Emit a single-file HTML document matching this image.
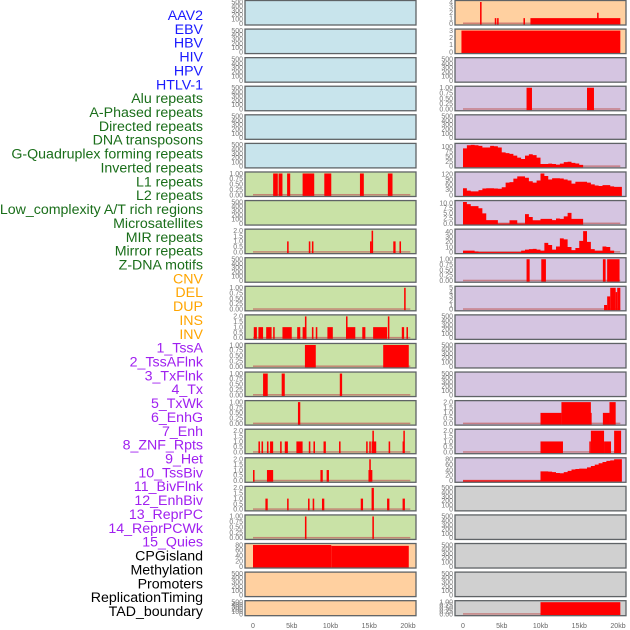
<!DOCTYPE html>
<html><head><meta charset="utf-8"><style>
html,body{margin:0;padding:0;background:#fff;}
svg{display:block;font-family:"Liberation Sans",sans-serif;}
</style></head><body>
<svg id="chart" width="630" height="630" viewBox="0 0 630 630" xmlns="http://www.w3.org/2000/svg"></svg>
<script>
// ---- data ----
const trackLabels = ["AAV2","EBV","HBV","HIV","HPV","HTLV-1","Alu repeats","A-Phased repeats","Directed repeats","DNA transposons","G-Quadruplex forming repeats","Inverted repeats","L1 repeats","L2 repeats","Low_complexity A/T rich regions","Microsatellites","MIR repeats","Mirror repeats","Z-DNA motifs","CNV","DEL","DUP","INS","INV","1_TssA","2_TssAFlnk","3_TxFlnk","4_Tx","5_TxWk","6_EnhG","7_Enh","8_ZNF_Rpts","9_Het","10_TssBiv","11_BivFlnk","12_EnhBiv","13_ReprPC","14_ReprPCWk","15_Quies","CPGisland","Methylation","Promoters","ReplicationTiming","TAD_boundary"];
const labelGroups = [6,13,5,15,5];
const groupColors = ["#1a1aff","#1a6e1a","#ffa500","#a020f0","#000000"];
const xTickValues = [0,5,10,15,20];
const xTickLabels = ["0","5kb","10kb","15kb","20kb"];
const leftBg = ["blue","blue","blue","blue","blue","blue","green","green","green","green","green","green","green","green","green","green","green","green","green","peach","peach","peach"];
const leftMax = [500,500,500,500,500,500,1,500,2,500,1,2,1,1,1,2,2,2,1,80,500,500];
const leftBars = [[],[],[],[],[],[],
 [[2.6,3.2,1],[3.3,3.8,1],[4.4,4.8,1],[6.4,7.9,1],[9.2,10.1,1],[13.8,14.3,1],[17.4,18.0,1]],
 [],
 [[4.4,4.6,1],[7.2,7.4,1],[7.6,7.8,1],[15.1,15.3,1],[15.3,15.5,2],[18.1,18.4,1],[18.9,19.1,1]],
 [],
 [[19.5,19.7,1]],
 [[0.1,0.5,1],[0.7,1.3,1],[1.7,2.4,1],[2.6,2.8,1],[3.8,5.0,1],[5.7,6.1,1],[6.4,6.9,1],[6.7,6.9,2],[7.6,7.8,1],[8.1,8.3,1],[9.6,10.3,1],[12.0,12.2,2],[12.0,13.2,1],[14.1,14.5,1],[15.5,17.3,1],[17.4,17.6,2],[19.2,19.5,1],[19.8,20.0,1]],
 [[6.7,8.1,1],[16.8,20.1,1]],
 [[1.3,1.9,1],[3.7,4.1,1],[11.2,11.5,1]],
 [[5.8,6.1,1]],
 [[0.7,0.9,1],[1.1,1.3,1],[1.8,2.0,1],[2.2,2.6,1],[3.5,3.7,1],[4.1,4.5,1],[5.6,6.4,1],[7.2,7.4,1],[7.8,8.0,1],[9.1,9.4,1],[11.1,11.3,1],[14.6,14.8,1],[15.0,15.2,1],[15.3,15.9,1],[15.4,15.6,2],[17.5,17.7,1],[19.3,19.5,1],[19.4,19.5,2]],
 [[0.0,0.2,1],[1.8,2.6,1],[8.7,9.0,1],[9.5,9.8,1],[14.9,15.4,1],[15.0,15.2,2]],
 [[1.6,1.9,1],[4.4,4.6,1],[7.1,7.3,1],[7.7,7.9,1],[8.9,9.2,1],[13.9,14.2,1],[15.3,15.6,2],[17.3,17.6,1],[19.3,19.6,1]],
 [[6.7,6.9,1],[15.4,15.6,1]],
 [[0.0,10.1,80],[10.1,20.1,77]],
 [],[]];
const leftHasBase = [0,0,0,0,0,0,1,0,1,0,1,1,1,1,1,1,1,1,1,0,0,0];
const rightBg = ["peach","peach","lav","lav","lav","lav","lav","lav","lav","lav","lav","lav","lav","lav","lav","lav","lav","grey","grey","grey","grey","grey"];
const rightMax = [4,3,500,1,500,110,125,10.5,42,1,5,500,500,500,2,2,80,500,500,500,500,1];
const rightBars = [
 [[2.2,2.4,4],[4.1,4.3,1],[4.4,4.6,1],[7.8,8.0,1],[8.7,20.3,1],[17.3,17.5,2]],
 [[-0.2,20.3,3]],
 [],
 [[8.2,8.9,1],[16.0,16.9,1]],
 [],[],[],[],[],
 [[8.2,8.6,1],[10.1,10.7,1],[18.05,18.4,1],[18.6,20.2,1]],
 [[18.2,18.6,1],[18.6,19.0,3],[19.0,19.7,5],[19.7,19.9,4],[19.9,20.3,5]],
 [],[],[],
 [[10.0,12.7,1],[12.7,16.5,2],[16.1,16.6,1],[18.05,18.9,1],[18.9,19.7,2]],
 [[10.0,12.9,1],[16.3,16.5,1],[16.5,18.2,2],[18.2,19.1,1],[19.5,20.4,2]],
 [],[],[],[],[],
 [[10.0,20.3,1]]];
const gquadValues = [92,108,110,108,105,97,97,105,103,97,72,68,64,55,45,38,55,62,58,45,12,12,14,12,9,14,22,24,18,15,8];
const l1Values = [39,25,21,21,28,38,39,39,38,36,45,72,75,95,108,108,100,80,72,84,125,110,90,97,97,96,90,84,66,77,77,77,72,62,55,52,57,57,50,47,47];
const lowcompValues = [10.5,9.5,8.5,8.5,7.5,5,1.7,1.7,1.7,0,0,0,1.6,1.6,0,0,4.6,3.2,1.6,1.6,2.3,2.3,2.3,1.7,2.5,2.3,3.5,5.2,2.3,2.3,2.3];
const mirValues = [3,3,3,1,0,0,0,0,0,0,0,0,0,0,0,3,5,6,6.5,5,3,18,14,5,11,27,25,10,4,8,22,41,20,6,3,3,11,10,3];
const hetValues = [1.5,1.5,1.5,1.5,1.5,1.5,1.5,1.5,1.5,1.5,1.5,1.5,1.5,1.5,1.5,1.5,1.5,1.5,1.5,1.5,35,35,34,32,29,28,32,37,42,44,45,45,50,55,60,65,70,74,76,80,80];
const rightBinned = {5:gquadValues,6:l1Values,7:lowcompValues,8:mirValues,16:hetValues};
const rightHasBase = [1,0,0,1,0,1,1,1,1,1,1,0,0,0,1,1,1,0,0,0,0,1];

const NS="http://www.w3.org/2000/svg";
const svg=document.getElementById('chart');
const bgColors={blue:"#c8e4ec",green:"#c9e2a6",peach:"#ffd0a0",lav:"#d5c5e1",grey:"#d0d0d0"};
const colLeft=[245,455], colW=171, kbPx=7.75, x0s=[253,463];
function rowTop(i){return 0.5+i*28.58;}
function rowH(i){return i===21?15:24.5;}
function xScale(col,kb){return x0s[col]+kb*kbPx;}
function yScale(i,max,v){const b=rowTop(i)+rowH(i)-1.5;return b-(v/max)*(rowH(i)-3);}
function mk(tag,attrs,parent){const e=document.createElementNS(NS,tag);for(const k in attrs)e.setAttribute(k,attrs[k]);(parent||svg).appendChild(e);return e;}

let li=0;
labelGroups.forEach((n,g)=>{for(let k=0;k<n;k++){const t=mk('text',{x:203,y:15+li*13.86+5,'text-anchor':'end','font-size':'14.2',fill:groupColors[g]});t.textContent=trackLabels[li];


li++;}});

function tickStep(max){if(max>=500)return 100;if(max===1)return 0.25;if(max===2)return 0.5;if(max===4||max===3||max===5)return 1;if(max===110)return 25;if(max===125)return 30;if(max===10.5)return 2.5;if(max===42)return 10;if(max===80)return 20;return max/4;}
function fmt(v,max){if(max===1)return v.toFixed(2);if(max===2||max===10.5)return v.toFixed(1);return String(v);}

function drawPanel(col,i,bg,max,bars,binned,hasBase){
  const g=mk('g',{});
  
  
  const x=colLeft[col],y=rowTop(i),h=rowH(i);
  mk('rect',{x:x,y:y,width:colW,height:h,fill:bgColors[bg]},g);
  const st=tickStep(max);
  for(let v=0;v<=max+1e-9;v+=st){
    const ty=yScale(i,max,v);
    const t=mk('text',{x:x-2,y:ty+2.3,'text-anchor':'end','font-size':'7',fill:'#777'},g);
    t.textContent=fmt(v,max);
    
    
  }
  if(hasBase){mk('rect',{x:xScale(col,0),y:yScale(i,max,0)-1,width:20.3*kbPx,height:1.5,fill:'#c06060',opacity:0.7},g);}
  const base=yScale(i,max,0);
  bars.forEach(b=>{const bx=xScale(col,b[0]),bw=Math.max(1.5,xScale(col,b[1])-bx),by=yScale(i,max,b[2]);
    const r=mk('rect',{x:bx,y:by,width:bw,height:Math.max(0,base-by+1),fill:'#ff0000'},g);
    
    });
  if(binned){let d='M'+xScale(col,0)+','+(base+1);
    binned.forEach((v,k)=>{const yy=yScale(i,max,v);d+=' L'+xScale(col,k*0.5)+','+yy+' L'+xScale(col,(k+1)*0.5)+','+yy;});
    d+=' L'+xScale(col,binned.length*0.5)+','+(base+1)+' Z';
    const p=mk('path',{d:d,fill:'#ff0000'},g);
    
    }
  mk('rect',{x:x,y:y,width:colW,height:h,fill:'none',stroke:'#5f6366','stroke-width':1.3},g);
}
for(let i=0;i<22;i++){
  drawPanel(0,i,leftBg[i],leftMax[i],leftBars[i],null,leftHasBase[i]);
  drawPanel(1,i,rightBg[i],rightMax[i],rightBars[i],rightBinned[i]||null,rightHasBase[i]);
}
[0,1].forEach(col=>{xTickValues.forEach((v,k)=>{const t=mk('text',{x:xScale(col,v),y:628,'text-anchor':'middle','font-size':'7',fill:'#666'});t.textContent=xTickLabels[k];

});});
</script>
</body></html>
